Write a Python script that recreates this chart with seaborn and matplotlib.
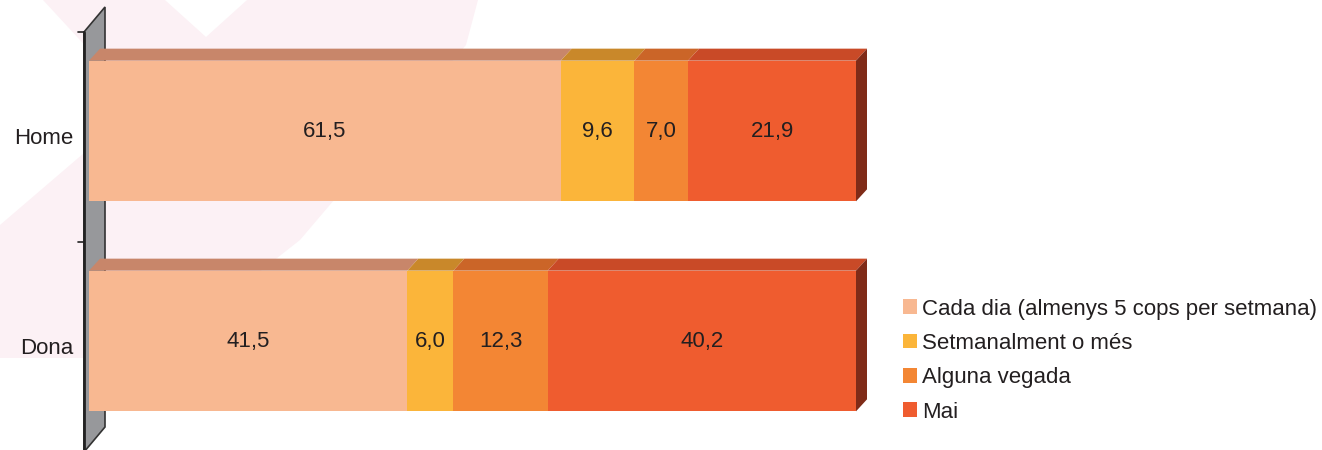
import numpy as np
import pandas as pd
import matplotlib
matplotlib.use("Agg")
import matplotlib.pyplot as plt
import seaborn as sns
from matplotlib.patches import Polygon
from matplotlib.lines import Line2D
from matplotlib.transforms import ScaledTranslation, blended_transform_factory

categories = ["Home", "Dona"]
series = ["Cada dia (almenys 5 cops per setmana)", "Setmanalment o més",
          "Alguna vegada", "Mai"]
cada_dia = [61.5, 41.5]
setmanal = [9.6, 6.0]
alguna = [7.0, 12.3]
mai = [21.9, 40.2]

front_colors = ["#F8B891", "#FBB53A", "#F38634", "#EF5C2F"]
top_colors = ["#C8866A", "#C9882A", "#CB6528", "#C94A27"]
side_color = "#7F2B18"
wall_color = "#97989B"
text_color = "#231F20"
watermark_color = "#FCF1F5"

sns.set_theme(style="white")
plt.rcParams["font.family"] = ["Liberation Sans", "DejaVu Sans"]

W, H = 1322, 450
FS = 16
fig = plt.figure(figsize=(W / 100, H / 100), dpi=100)
fig.patch.set_facecolor("white")

# faint background watermark
wm_px = [(43, 0), (165, 0), (206, 37), (247, 0), (478, 0), (466, 45),
         (300, 240), (150, 358), (0, 358), (0, 225), (140, 105)]
fig.add_artist(Polygon([(x / W, 1 - y / H) for x, y in wm_px], closed=True,
                       facecolor=watermark_color, edgecolor="none",
                       transform=fig.transFigure, zorder=0))

ax = fig.add_axes([89 / W, 4 / H, 767 / W, 420 / H])
ax.patch.set_alpha(0)

vals = np.array([cada_dia, setmanal, alguna, mai])
cum = vals.cumsum(axis=0)
starts = cum - vals
bw = 0.67

for j in range(len(series) - 1, -1, -1):
    df = pd.DataFrame({"cat": categories, "val": cum[j]})
    sns.barplot(data=df, x="val", y="cat", orient="h", color=front_colors[j],
                saturation=1, width=bw, linewidth=0, ax=ax, label=series[j],
                zorder=3)
if ax.get_legend() is not None:
    ax.get_legend().remove()

ax.set_xlim(0, 100)
ax.set_ylim(1.5, -0.5)
ax.set_axis_off()

inv = ax.transData.inverted()


def off(x, y, dx, dy):
    p = ax.transData.transform((x, y)) + np.array([dx, dy])
    return inv.transform(p)


DX, DY = 11, 12
for i, cat in enumerate(categories):
    yt = i - bw / 2
    yb = i + bw / 2
    for j in range(len(series)):
        x0, x1 = starts[j, i], cum[j, i]
        pts = [(x0, yt), (x1, yt), off(x1, yt, DX, DY), off(x0, yt, DX, DY)]
        ax.add_patch(Polygon(pts, closed=True, facecolor=top_colors[j],
                             edgecolor="none", zorder=2, clip_on=False))
        v = vals[j, i]
        ax.text((x0 + x1) / 2, i, f"{v:.1f}".replace(".", ","), ha="center",
                va="center", fontsize=FS, color=text_color, zorder=5)
    x1 = cum[-1, i]
    side = [(x1, yt), (x1, yb), off(x1, yb, DX, DY), off(x1, yt, DX, DY)]
    ax.add_patch(Polygon(side, closed=True, facecolor=side_color,
                         edgecolor="none", zorder=2, clip_on=False))

# side wall (left axis), relative to the axes
ta = ax.transAxes
tinv = ta.inverted()


def aoff(x, y, dx, dy):
    p = ta.transform((x, y)) + np.array([dx, dy])
    return tinv.transform(p)


wall = [aoff(0, 1, -5, -6), aoff(0, 1, 16, 19), aoff(0, 0, 16, 19),
        aoff(0, 0, -5, -6)]
ax.add_patch(Polygon(wall, closed=True, facecolor=wall_color,
                     edgecolor="#333333", linewidth=1.2, zorder=1,
                     clip_on=False, transform=ta))
fe = [aoff(0, 1, -5, -6), aoff(0, 0, -5, -6)]
ax.add_line(Line2D([fe[0][0], fe[1][0]], [fe[0][1], fe[1][1]], color="#222222",
                   linewidth=2, transform=ta, clip_on=False, zorder=1.5))

# category ticks at band boundaries and labels
bt = blended_transform_factory(ta, ax.transData)
for yb in [-0.5, 0.5, 1.5]:
    ax.add_line(Line2D([0, 6 / 767], [yb, yb], color="#222222", linewidth=1.2,
                       transform=bt + ScaledTranslation(-11 / 100, -6 / 100,
                                                        fig.dpi_scale_trans),
                       clip_on=False))
for i, cat in enumerate(categories):
    ax.text(0, i, cat, ha="right", va="center", fontsize=FS,
            color=text_color,
            transform=bt + ScaledTranslation(-16 / 100, -7 / 100,
                                             fig.dpi_scale_trans))

handles, labels = ax.get_legend_handles_labels()
handles, labels = handles[::-1], labels[::-1]
fig.legend(handles, labels, loc="center left",
           bbox_to_anchor=(903 / W, 1 - 360.5 / H), frameon=False,
           fontsize=FS, handlelength=0.63, handleheight=0.63,
           handletextpad=0.22, labelspacing=0.6, borderpad=0,
           borderaxespad=0, labelcolor=text_color)

fig.savefig("out.png", dpi=100)
